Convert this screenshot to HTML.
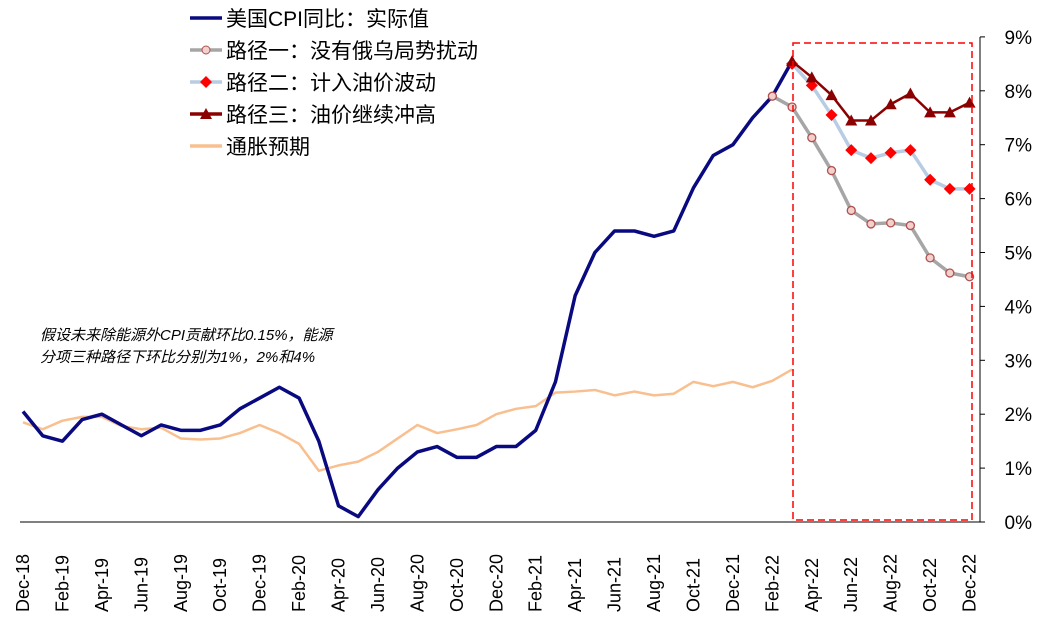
<!DOCTYPE html>
<html><head><meta charset="utf-8"><style>
body{margin:0;background:#fff;}
svg text{font-family:"Liberation Sans","Noto Sans CJK SC",sans-serif;}
</style></head><body>
<svg width="1062" height="621" xmlns="http://www.w3.org/2000/svg" id="c"></svg>
<script>
const s=document.getElementById('c');
const X=i=>23+i*19.72, Y=v=>522-v*53.9;
let h='';
h+=`<line x1="20" y1="522" x2="980" y2="522" stroke="#000" stroke-width="1"/>`;
h+=`<line x1="980" y1="37" x2="980" y2="522" stroke="#000" stroke-width="1"/>`;
for(let v=0;v<=9;v++){h+=`<line x1="980" y1="${Y(v)}" x2="985" y2="${Y(v)}" stroke="#000"/><text x="1032" y="${Y(v)+7}" font-size="19" text-anchor="end">${v}%</text>`;}
const mon=['Dec','Feb','Apr','Jun','Aug','Oct'];
for(let i=0;i<=48;i+=2){const x=X(i);const m=mon[(i/2)%6];const yr=18+Math.floor((i+11)/12);
h+=`<text transform="translate(${x+6},612) rotate(-90)" font-size="18">${m}-${yr}</text>`;}
const cpi=[2.05,1.6,1.5,1.9,2.0,1.8,1.6,1.8,1.7,1.7,1.8,2.1,2.3,2.5,2.3,1.5,0.3,0.1,0.6,1.0,1.3,1.4,1.2,1.2,1.4,1.4,1.7,2.6,4.2,5.0,5.4,5.4,5.3,5.4,6.2,6.8,7.0,7.5,7.9,8.55];
const inf=[1.85,1.72,1.88,1.95,1.88,1.95,1.78,1.72,1.75,1.55,1.53,1.55,1.65,1.8,1.65,1.45,0.95,1.05,1.12,1.3,1.55,1.8,1.65,1.72,1.8,2.0,2.1,2.15,2.4,2.42,2.45,2.35,2.42,2.35,2.38,2.6,2.52,2.6,2.5,2.62,2.83];
inf.splice(4,1);
const p1=[7.7,7.13,6.52,5.78,5.53,5.55,5.5,4.9,4.62,4.55];
const p2=[8.5,8.1,7.55,6.9,6.75,6.85,6.9,6.35,6.18,6.18];
const p3=[8.55,8.25,7.92,7.45,7.45,7.75,7.95,7.6,7.6,7.78];
const pl=(a,o,c,w)=>`<polyline points="${a.map((v,i)=>X(i+o)+','+Y(v)).join(' ')}" fill="none" stroke="${c}" stroke-width="${w}" stroke-linejoin="round"/>`;
h+=pl(inf,0,'#f9bf8f',2.5);
h+=pl(cpi,0,'#0a0a80',3.5);
h+=pl([7.9].concat(p1),38,'#a6a6a6',3.5);
h+=pl(p2,39,'#b8cce4',3.5);
h+=pl(p3,39,'#8b0000',2.5);
[7.9].concat(p1).forEach((v,i)=>h+=`<circle cx="${X(i+38)}" cy="${Y(v)}" r="4" fill="#f2d0cc" stroke="#b05050" stroke-width="1.3"/>`);
p2.forEach((v,i)=>{const x=X(i+39),y=Y(v);h+=`<polygon points="${x},${y-6} ${x+6},${y} ${x},${y+6} ${x-6},${y}" fill="#ff0000"/>`;});
p3.forEach((v,i)=>{const x=X(i+39),y=Y(v);h+=`<polygon points="${x},${y-6} ${x+6},${y+5} ${x-6},${y+5}" fill="#8b0000"/>`;});
h+=`<rect x="793" y="43" width="179" height="477" fill="none" stroke="#ff0000" stroke-width="1.5" stroke-dasharray="7,4"/>`;
const L=[['美国CPI同比：实际值','#0a0a80',''],['路径一：没有俄乌局势扰动','#a6a6a6','c'],['路径二：计入油价波动','#b8cce4','d'],['路径三：油价继续冲高','#8b0000','t'],['通胀预期','#f9bf8f','']];
L.forEach((l,i)=>{const y=18+i*32;h+=`<line x1="190" y1="${y}" x2="222" y2="${y}" stroke="${l[1]}" stroke-width="3.5"/>`;
if(l[2]=='c')h+=`<circle cx="206" cy="${y}" r="4" fill="#f2d0cc" stroke="#b05050"/>`;
if(l[2]=='d')h+=`<polygon points="206,${y-6} 212,${y} 206,${y+6} 200,${y}" fill="#f00"/>`;
if(l[2]=='t')h+=`<polygon points="206,${y-6} 212,${y+5} 200,${y+5}" fill="#8b0000"/>`;
h+=`<text x="226" y="${y+8}" font-size="21">${l[0]}</text>`;});
h+=`<text x="40" y="340" font-size="15" font-style="italic">假设未来除能源外CPI贡献环比0.15%，能源</text>`;
h+=`<text x="40" y="362" font-size="15" font-style="italic">分项三种路径下环比分别为1%，2%和4%</text>`;
s.innerHTML=h;
</script>
</body></html>
